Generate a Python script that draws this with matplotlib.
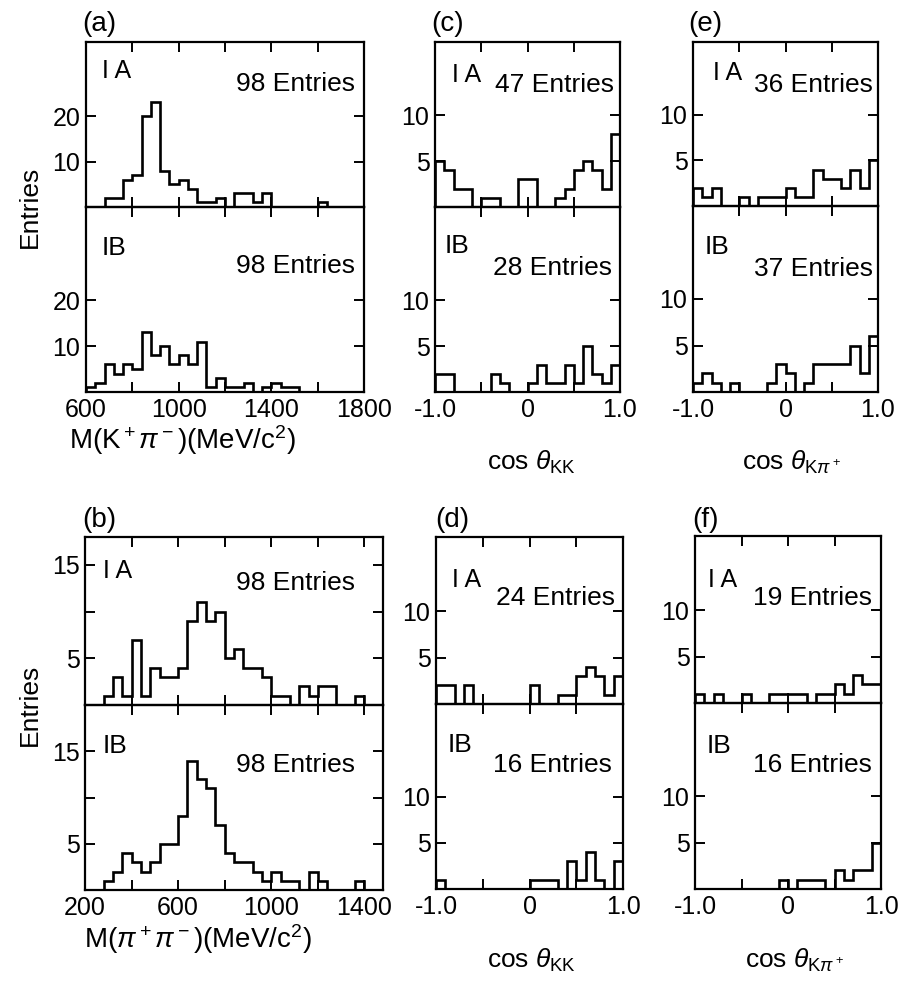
import numpy as np
import matplotlib
matplotlib.use('Agg')
import matplotlib.pyplot as plt

plt.rcParams['font.family'] = ['Liberation Sans', 'DejaVu Sans']
plt.rcParams['mathtext.fontset'] = 'custom'
plt.rcParams['mathtext.rm'] = 'Liberation Sans'
plt.rcParams['mathtext.it'] = 'Liberation Sans:italic'
plt.rcParams['mathtext.bf'] = 'Liberation Sans:bold'

# ---------------- data ----------------
mass_a_edges = np.arange(600, 1801, 40)
mass_b_edges = np.arange(200, 1481, 40)
cos_edges = np.round(np.linspace(-1, 1, 21), 2)

a_IA = [0, 0, 2, 2, 6, 7, 20, 23, 8, 5, 6, 4, 1, 1, 2, 0, 3, 3, 1, 3,
        0, 0, 0, 0, 0, 1, 0, 0, 0, 0]
a_IB = [1, 2, 6, 4, 6, 5, 13, 8, 10, 6, 8, 6, 11, 1, 3, 1, 1, 2, 0, 1,
        2, 1, 1, 0, 0, 0, 0, 0, 0, 0]
b_IA = [0, 0, 1, 3, 1, 7, 1, 4, 3, 3, 4, 9, 11, 9, 10, 5, 6, 4, 4, 3,
        1, 1, 0, 2, 1, 2, 2, 0, 0, 1, 0, 0]
b_IB = [0, 0, 1, 2, 4, 3, 2, 3, 5, 5, 8, 14, 12, 11, 7, 4, 3, 3, 2, 1,
        2, 1, 1, 0, 2, 1, 0, 0, 0, 1, 0, 0]
c_IA = [5, 4, 2, 2, 0, 1, 1, 0, 0, 3, 3, 0, 0, 1, 2, 4, 5, 4, 2, 8]
c_IB = [2, 2, 0, 0, 0, 0, 2, 1, 0, 0, 1, 3, 1, 1, 3, 1, 5, 2, 1, 3]
d_IA = [2, 2, 0, 2, 0, 0, 0, 0, 0, 0, 2, 0, 0, 1, 1, 3, 4, 3, 1, 3]
d_IB = [1, 0, 0, 0, 0, 0, 0, 0, 0, 0, 1, 1, 1, 0, 3, 1, 4, 1, 0, 3]
e_IA = [2, 1, 2, 0, 0, 1, 0, 1, 1, 1, 2, 1, 1, 4, 3, 3, 2, 4, 2, 5]
e_IB = [1, 2, 1, 0, 1, 0, 0, 0, 1, 3, 2, 0, 1, 3, 3, 3, 3, 5, 2, 6]
f_IA = [1, 0, 1, 0, 0, 1, 0, 0, 1, 1, 1, 1, 0, 1, 1, 2, 1, 3, 2, 2]
f_IB = [0, 0, 0, 0, 0, 0, 0, 0, 0, 1, 0, 1, 1, 1, 0, 2, 1, 2, 2, 5]

entries = {'a': (98, 98), 'b': (98, 98), 'c': (47, 28),
           'd': (24, 16), 'e': (36, 37), 'f': (19, 16)}

mass_a_ticks = [600, 800, 1000, 1200, 1400, 1600, 1800]
mass_a_labels = ['600', '', '1000', '', '1400', '', '1800']
mass_b_ticks = [200, 400, 600, 800, 1000, 1200, 1400]
mass_b_labels = ['200', '', '600', '', '1000', '', '1400']
cos_ticks = [-1.0, -0.5, 0.0, 0.5, 1.0]
cos_labels = ['-1.0', '', '0', '', '1.0']

xlabel_a = r'M(K$^+\pi^-$)(MeV/c$^2$)'
xlabel_b = r'M($\pi^+\pi^-$)(MeV/c$^2$)'
xlabel_kk = r'cos $\theta_{\mathrm{KK}}$'
xlabel_kpi = r'cos $\theta_{\mathrm{K}\pi^+}$'

# ---------------- layout ----------------
W, H = 902, 984
fig = plt.figure(figsize=(W / 100, H / 100), dpi=100)
LW = 1.9
TICKFS = 18
TXTFS = 19


def px_axes(l, r, t, b):
    return fig.add_axes([l / W, 1 - b / H, (r - l) / W, (b - t) / H])


panels = [
    dict(k='a', l=86, r=364, t=42, m=207, b=392, edges=mass_a_edges,
         A=a_IA, B=a_IB, yA=36.3, yB=40.3, yt=[10, 20], yl=['10', '20'],
         xt=mass_a_ticks, xl=mass_a_labels, xlim=(600, 1800),
         xlab=xlabel_a, ia=(0.058, 0.78), ea=(0.968, 0.705),
         ib=(0.058, 0.74), eb=(0.968, 0.643), lab=(82, 37),
         xlx=182, xly=449, xlfs=20),
    dict(k='c', l=435, r=620, t=42, m=207, b=392, edges=cos_edges,
         A=c_IA, B=c_IB, yA=18, yB=20.2, yt=[5, 10], yl=['5', '10'],
         xt=cos_ticks, xl=cos_labels, xlim=(-1, 1),
         xlab=xlabel_kk, ia=(0.09, 0.756), ea=(0.97, 0.696),
         ib=(0.054, 0.751), eb=(0.957, 0.632), lab=(431, 37),
         xlx=532, xly=470, xlfs=19),
    dict(k='e', l=693, r=878, t=42, m=206, b=392, edges=cos_edges,
         A=e_IA, B=e_IB, yA=18, yB=20, yt=[5, 10], yl=['5', '10'],
         xt=cos_ticks, xl=cos_labels, xlim=(-1, 1),
         xlab=xlabel_kpi, ia=(0.108, 0.767), ea=(0.973, 0.695),
         ib=(0.065, 0.743), eb=(0.973, 0.626), lab=(688, 37),
         xlx=792, xly=470, xlfs=19),
    dict(k='b', l=85, r=383, t=537, m=705, b=890, edges=mass_b_edges,
         A=b_IA, B=b_IB, yA=18, yB=20, yt=[5, 10, 15], yl=['5', '', '15'],
         xt=mass_b_ticks, xl=mass_b_labels, xlim=(200, 1480),
         xlab=xlabel_b, ia=(0.06, 0.756), ea=(0.906, 0.685),
         ib=(0.06, 0.739), eb=(0.906, 0.636), lab=(82, 533),
         xlx=198, xly=948, xlfs=20),
    dict(k='d', l=436, r=623, t=537, m=704, b=889, edges=cos_edges,
         A=d_IA, B=d_IB, yA=18, yB=20, yt=[5, 10], yl=['5', '10'],
         xt=cos_ticks, xl=cos_labels, xlim=(-1, 1),
         xlab=xlabel_kk, ia=(0.086, 0.70), ea=(0.957, 0.59),
         ib=(0.06, 0.74), eb=(0.94, 0.632), lab=(435, 533),
         xlx=532, xly=968, xlfs=19),
    dict(k='f', l=695, r=881, t=536, m=703, b=889, edges=cos_edges,
         A=f_IA, B=f_IB, yA=18, yB=20, yt=[5, 10], yl=['5', '10'],
         xt=cos_ticks, xl=cos_labels, xlim=(-1, 1),
         xlab=xlabel_kpi, ia=(0.07, 0.695), ea=(0.95, 0.587),
         ib=(0.065, 0.73), eb=(0.95, 0.627), lab=(692, 533),
         xlx=795, xly=968, xlfs=19),
]


def style(ax, p, ylim, show_x):
    ax.set_xlim(*p['xlim'])
    ax.set_ylim(0, ylim)
    ax.set_xticks(p['xt'])
    ax.set_yticks(p['yt'])
    ax.set_yticklabels(p['yl'])
    if show_x:
        ax.set_xticklabels(p['xl'])
    else:
        ax.set_xticklabels([])
    ax.tick_params(direction='in', top=True, right=True, length=7,
                   width=1.4, labelsize=TICKFS, pad=4)
    for s in ax.spines.values():
        s.set_linewidth(1.6)
    ax.patch.set_alpha(0)


for p in panels:
    axA = px_axes(p['l'], p['r'], p['t'], p['m'])
    axB = px_axes(p['l'], p['r'], p['m'], p['b'])
    axA.stairs(p['A'], p['edges'], baseline=0, color='black', linewidth=LW)
    axB.stairs(p['B'], p['edges'], baseline=0, color='black', linewidth=LW)
    style(axA, p, p['yA'], False)
    style(axB, p, p['yB'], True)
    nA, nB = entries[p['k']]
    axA.text(*p['ia'], 'I A', transform=axA.transAxes, fontsize=18,
             ha='left', va='baseline')
    axA.text(*p['ea'], f'{nA} Entries', transform=axA.transAxes,
             fontsize=TXTFS, ha='right', va='baseline')
    axB.text(*p['ib'], 'IB', transform=axB.transAxes, fontsize=19,
             ha='left', va='baseline')
    axB.text(*p['eb'], f'{nB} Entries', transform=axB.transAxes,
             fontsize=TXTFS, ha='right', va='baseline')
    fig.text(p['lab'][0] / W, 1 - p['lab'][1] / H, f"({p['k']})",
             fontsize=20, ha='left', va='bottom')
    fig.text(p['xlx'] / W, 1 - p['xly'] / H, p['xlab'],
             fontsize=p['xlfs'], ha='center', va='baseline')

fig.text(30 / W, 1 - 207 / H, 'Entries', rotation=90, fontsize=TXTFS,
         ha='center', va='center')
fig.text(30 / W, 1 - 705 / H, 'Entries', rotation=90, fontsize=TXTFS,
         ha='center', va='center')

fig.savefig('out.png', dpi=100, facecolor='white')
